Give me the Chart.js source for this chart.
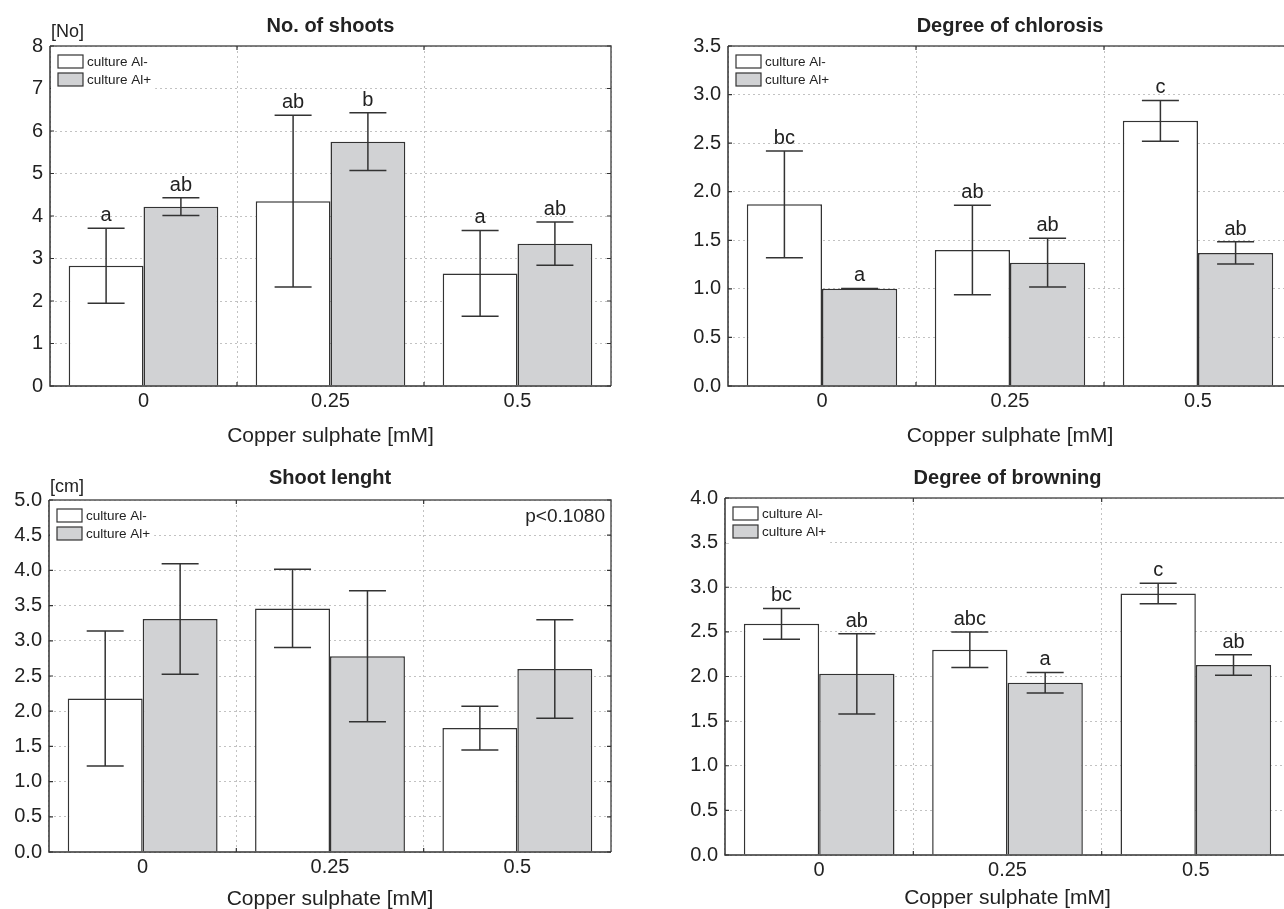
<!DOCTYPE html>
<html>
<head>
<meta charset="utf-8">
<script src="https://cdn.jsdelivr.net/npm/chart.js@4.4.0/dist/chart.umd.min.js"></script>
<style>
  html, body { margin: 0; padding: 0; background: #fff; overflow: hidden; }
  body { width: 1284px; height: 909px; position: relative; }
  canvas { position: absolute; }
</style>
</head>
<body>
<canvas id="shoots" width="642" height="454" style="left:0;top:0"></canvas>
<canvas id="chlorosis" width="660" height="454" style="left:642px;top:0"></canvas>
<canvas id="length" width="642" height="460" style="left:0;top:454px"></canvas>
<canvas id="browning" width="660" height="460" style="left:642px;top:454px"></canvas>
<script>
const doses = ['0', '0.25', '0.5'];
const seriesNames = ['culture Al-', 'culture Al+'];
const xTitle = 'Copper sulphate [mM]';

// No. of shoots
const shootsMinus = [2.83, 4.35, 2.65];
const shootsPlus = [4.22, 5.75, 3.35];
const shootsMinusErr = [0.88, 2.02, 1.01];
const shootsPlusErr = [0.21, 0.68, 0.51];
const shootsMinusLetters = ['a', 'ab', 'a'];
const shootsPlusLetters = ['ab', 'b', 'ab'];
const shootsTicks = ['0', '1', '2', '3', '4', '5', '6', '7', '8'];

// Degree of chlorosis
const chlorosisMinus = [1.87, 1.40, 2.73];
const chlorosisPlus = [1.00, 1.27, 1.37];
const chlorosisMinusErr = [0.55, 0.46, 0.21];
const chlorosisPlusErr = [0.004, 0.25, 0.115];
const chlorosisMinusLetters = ['bc', 'ab', 'c'];
const chlorosisPlusLetters = ['a', 'ab', 'ab'];
const chlorosisTicks = ['0.0', '0.5', '1.0', '1.5', '2.0', '2.5', '3.0', '3.5'];

// Shoot lenght
const lengthMinus = [2.18, 3.46, 1.76];
const lengthPlus = [3.31, 2.78, 2.60];
const lengthMinusErr = [0.96, 0.555, 0.31];
const lengthPlusErr = [0.785, 0.93, 0.70];
const lengthTicks = ['0.0', '0.5', '1.0', '1.5', '2.0', '2.5', '3.0', '3.5', '4.0', '4.5', '5.0'];

// Degree of browning
const browningMinus = [2.59, 2.30, 2.93];
const browningPlus = [2.03, 1.93, 2.13];
const browningMinusErr = [0.173, 0.20, 0.115];
const browningPlusErr = [0.45, 0.115, 0.115];
const browningMinusLetters = ['bc', 'abc', 'c'];
const browningPlusLetters = ['ab', 'a', 'ab'];
const browningTicks = ['0.0', '0.5', '1.0', '1.5', '2.0', '2.5', '3.0', '3.5', '4.0'];

const FONT = '"Liberation Sans", Arial, Helvetica, sans-serif';
Chart.defaults.font.family = FONT;
Chart.defaults.color = '#222';

const decor = {
  id: 'decor',
  afterDatasetsDraw(chart, args, o) {
    const {ctx, chartArea: a, scales: {x, y}} = chart;
    ctx.save();

    // error bars + letters
    chart.data.datasets.forEach((ds, i) => {
      chart.getDatasetMeta(i).data.forEach((bar, j) => {
        const v = ds.data[j], e = o.errors[i][j];
        const yt = y.getPixelForValue(v + e), yb = y.getPixelForValue(v - e);
        ctx.strokeStyle = '#333';
        ctx.lineWidth = 1.5;
        ctx.beginPath();
        ctx.moveTo(bar.x, yt); ctx.lineTo(bar.x, yb);
        ctx.moveTo(bar.x - 18.5, yt); ctx.lineTo(bar.x + 18.5, yt);
        ctx.moveTo(bar.x - 18.5, yb); ctx.lineTo(bar.x + 18.5, yb);
        ctx.stroke();
        if (o.letters) {
          ctx.fillStyle = '#222';
          ctx.font = '20px ' + FONT;
          ctx.textAlign = 'center';
          ctx.textBaseline = 'alphabetic';
          ctx.fillText(o.letters[i][j], bar.x, yt - 7);
        }
      });
    });

    // frame
    ctx.lineWidth = 1.5;
    ctx.strokeStyle = '#555';
    ctx.beginPath();
    ctx.moveTo(a.left, a.top); ctx.lineTo(a.right, a.top); ctx.lineTo(a.right, a.bottom);
    ctx.stroke();
    ctx.strokeStyle = '#333';
    ctx.beginPath();
    ctx.moveTo(a.left, a.top); ctx.lineTo(a.left, a.bottom); ctx.lineTo(a.right, a.bottom);
    ctx.stroke();

    // small inner ticks
    ctx.lineWidth = 1.2;
    ctx.beginPath();
    y.ticks.forEach(t => {
      const py = y.getPixelForValue(t.value);
      ctx.moveTo(a.left, py); ctx.lineTo(a.left + 4, py);
      ctx.moveTo(a.right, py); ctx.lineTo(a.right - 4, py);
    });
    for (let k = 1; k < x.ticks.length; k++) {
      const px = (x.getPixelForTick(k - 1) + x.getPixelForTick(k)) / 2;
      ctx.moveTo(px, a.bottom); ctx.lineTo(px, a.bottom - 4);
      ctx.moveTo(px, a.top); ctx.lineTo(px, a.top + 4);
    }
    ctx.stroke();

    // legend inside plot
    ctx.font = '13.5px ' + FONT;
    const tw = Math.max(...chart.data.datasets.map(ds => ctx.measureText(ds.label).width));
    ctx.fillStyle = '#fff';
    ctx.fillRect(a.left + 1, a.top + 1, 8 + 29 + tw + 3, 44);
    ctx.textAlign = 'left';
    ctx.textBaseline = 'middle';
    chart.data.datasets.forEach((ds, i) => {
      const bx = a.left + 8, by = a.top + 9 + i * 18;
      ctx.fillStyle = ds.backgroundColor;
      ctx.fillRect(bx, by, 25, 13);
      ctx.strokeStyle = '#333';
      ctx.lineWidth = 1.2;
      ctx.strokeRect(bx, by, 25, 13);
      ctx.fillStyle = '#222';
      ctx.fillText(ds.label, bx + 29, by + 7);
    });

    // title
    ctx.fillStyle = '#222';
    ctx.font = 'bold 20px ' + FONT;
    ctx.textAlign = 'center';
    ctx.fillText(o.title, (a.left + a.right) / 2, o.titleY);

    // unit label
    if (o.unit) {
      ctx.font = '18px ' + FONT;
      ctx.textAlign = 'left';
      ctx.fillText(o.unit, a.left + 1, o.unitY);
    }
    // p value note
    if (o.note) {
      ctx.font = '19px ' + FONT;
      ctx.textAlign = 'right';
      ctx.fillText(o.note, a.right - 6, a.top + 17);
    }
    ctx.restore();
  }
};

function makeChart(id, c) {
  const canvas = document.getElementById(id);
  const W = canvas.width, H = canvas.height;
  const [left, top, right, bottom] = c.area;
  const lineH = 21 * 1.2;
  new Chart(canvas, {
    type: 'bar',
    data: {
      labels: doses,
      datasets: [
        {
          label: seriesNames[0],
          data: c.minus,
          backgroundColor: '#ffffff',
          borderColor: '#333',
          borderWidth: 1.5,
          barPercentage: 1.0,
          categoryPercentage: 0.8
        },
        {
          label: seriesNames[1],
          data: c.plus,
          backgroundColor: '#d1d2d4',
          borderColor: '#333',
          borderWidth: 1.5,
          barPercentage: 1.0,
          categoryPercentage: 0.8
        }
      ]
    },
    options: {
      responsive: false,
      animation: false,
      events: [],
      layout: { padding: { left: 0, top: top, right: W - right, bottom: 0 } },
      plugins: {
        legend: { display: false },
        tooltip: { enabled: false },
        decor: {
          errors: c.errors, letters: c.letters, title: c.title, titleY: c.titleY,
          unit: c.unit, unitY: c.unitY, note: c.note
        }
      },
      scales: {
        x: {
          grid: { color: '#c2c2c2', lineWidth: 1, drawTicks: false, offset: true },
          border: { display: false, dash: [2, 3] },
          ticks: { font: { size: 20 }, padding: 3, color: '#222' },
          title: {
            display: true, text: xTitle, color: '#222',
            font: { size: 21 }, padding: { top: 0, bottom: (H - c.xTitleY) - lineH / 2 }
          },
          afterFit: s => { s.height = H - bottom; }
        },
        y: {
          min: 0, max: c.max, ticks: { stepSize: c.step, font: { size: 20 }, padding: 7, color: '#222',
            callback: (v, i) => c.ticks[i] },
          grid: { color: '#c2c2c2', lineWidth: 1, drawTicks: false },
          border: { display: false, dash: [2, 3] },
          afterFit: s => { s.width = left; }
        }
      }
    },
    plugins: [decor]
  });
}

makeChart('shoots', {
  minus: shootsMinus, plus: shootsPlus,
  errors: [shootsMinusErr, shootsPlusErr], letters: [shootsMinusLetters, shootsPlusLetters],
  ticks: shootsTicks, max: 8, step: 1,
  title: 'No. of shoots', titleY: 26, unit: '[No]', unitY: 32,
  area: [50, 46, 611, 386], xTitleY: 436
});
makeChart('chlorosis', {
  minus: chlorosisMinus, plus: chlorosisPlus,
  errors: [chlorosisMinusErr, chlorosisPlusErr], letters: [chlorosisMinusLetters, chlorosisPlusLetters],
  ticks: chlorosisTicks, max: 3.5, step: 0.5,
  title: 'Degree of chlorosis', titleY: 26,
  area: [86, 46, 650, 386], xTitleY: 436
});
makeChart('length', {
  minus: lengthMinus, plus: lengthPlus,
  errors: [lengthMinusErr, lengthPlusErr], letters: null,
  ticks: lengthTicks, max: 5, step: 0.5,
  title: 'Shoot lenght', titleY: 24, unit: '[cm]', unitY: 33, note: 'p<0.1080',
  area: [49, 46, 611, 398], xTitleY: 445
});
makeChart('browning', {
  minus: browningMinus, plus: browningPlus,
  errors: [browningMinusErr, browningPlusErr], letters: [browningMinusLetters, browningPlusLetters],
  ticks: browningTicks, max: 4, step: 0.5,
  title: 'Degree of browning', titleY: 24,
  area: [83, 44, 648, 401], xTitleY: 444
});
</script>
</body>
</html>
